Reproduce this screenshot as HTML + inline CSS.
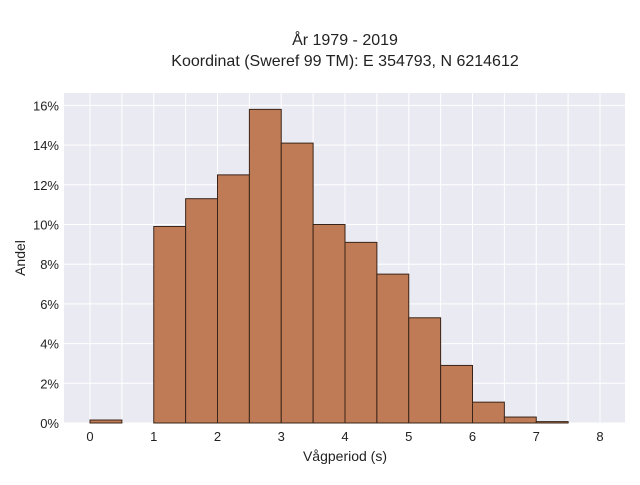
<!DOCTYPE html>
<html><head><meta charset="utf-8"><style>
body{margin:0;background:#fff;}
svg text{font-family:"Liberation Sans",sans-serif;fill:#222;}
</style></head><body>
<svg id="chart" width="640" height="480">
<text x="345" y="45" text-anchor="middle" font-size="16">År 1979 - 2019</text>
<text x="345" y="66" text-anchor="middle" font-size="16">Koordinat (Sweref 99 TM): E 354793, N 6214612</text>
<rect x="64" y="93" width="561" height="330" fill="#eaeaf2"/>
<g id="grid"></g><g id="bars"></g><g id="ticks"></g>
<text x="345" y="461" text-anchor="middle" font-size="14">Vågperiod (s)</text>
<text transform="translate(25,258) rotate(-90)" text-anchor="middle" font-size="14">Andel</text>
</svg>
<script>
const binStarts=[0,0.5,1,1.5,2,2.5,3,3.5,4,4.5,5,5.5,6,6.5,7];
const shares=[0.15,0,9.9,11.3,12.5,15.8,14.1,10.0,9.1,7.5,5.3,2.9,1.05,0.3,0.07];
const binWidth=0.5;
const xTicks=[0,1,2,3,4,5,6,7,8];
const yTicks=[0,2,4,6,8,10,12,14,16];
const NS="http://www.w3.org/2000/svg";
const X=v=>90+v*63.75, Y=v=>423-v*19.85;
const grid=document.getElementById('grid'),bars=document.getElementById('bars'),ticks=document.getElementById('ticks');
function mk(tag,attrs,parent){const e=document.createElementNS(NS,tag);for(const k in attrs)e.setAttribute(k,attrs[k]);parent.appendChild(e);return e;}
for(let v=0;v<=8;v+=0.5){const l=mk('line',{x1:X(v),x2:X(v),y1:93,y2:423,stroke:'#fff','stroke-width':1},grid);

}
yTicks.forEach(v=>{const l=mk('line',{x1:64,x2:625,y1:Y(v),y2:Y(v),stroke:'#fff','stroke-width':1},grid);


const t=mk('text',{x:59,y:Y(v)+5,'text-anchor':'end','font-size':13},ticks);t.textContent=v+'%';

});
xTicks.forEach(v=>{const t=mk('text',{x:X(v),y:441,'text-anchor':'middle','font-size':13},ticks);t.textContent=v;

});
binStarts.forEach((s,i)=>{if(shares[i]<=0)return;const r=mk('rect',{x:X(s),y:Y(shares[i]),width:X(s+binWidth)-X(s),height:Y(0)-Y(shares[i]),fill:'#bf7b56',stroke:'#3a2418','stroke-width':1},bars);

});
</script>
</body></html>
